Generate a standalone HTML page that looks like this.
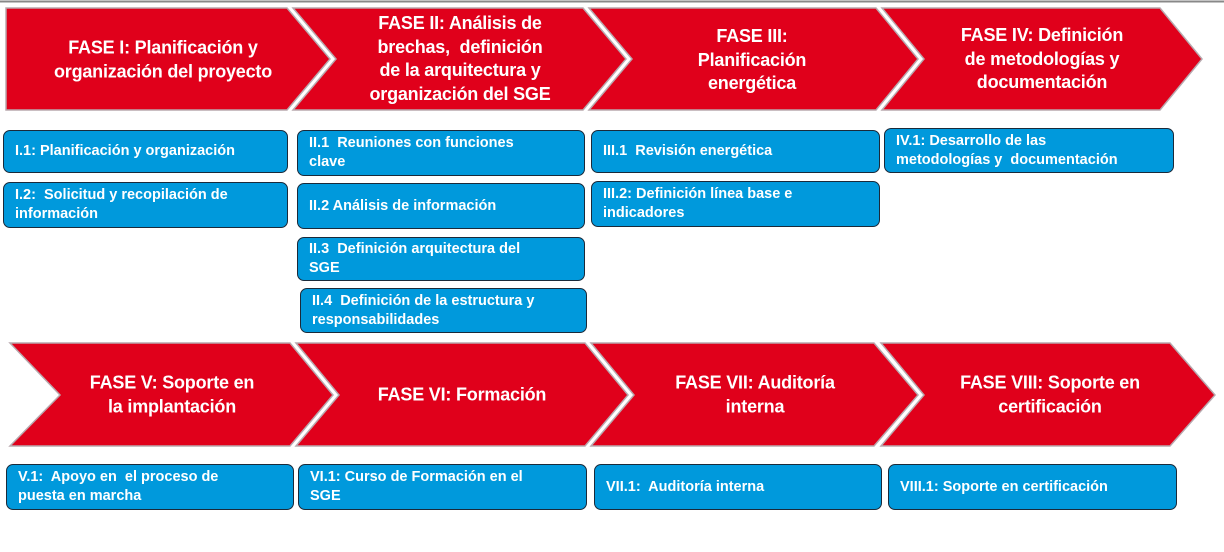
<!DOCTYPE html>
<html><head><meta charset="utf-8"><style>
body{margin:0;width:1224px;height:552px;background:#fff;position:relative;overflow:hidden;font-family:"Liberation Sans",Arial,sans-serif}
svg{position:absolute;left:0;top:0}
.h{position:absolute;color:#fff;font-weight:bold;font-size:18px;line-height:23.5px;text-align:center;transform:translate(-50%,-50%);white-space:nowrap;letter-spacing:-0.2px}
.b{position:absolute;box-sizing:border-box;background:#0099dc;border:1.5px solid #1a2a3a;border-radius:7px;color:#fff;font-weight:bold;font-size:14.5px;line-height:19px;padding:0 11px;display:flex;align-items:center}
</style></head><body>
<svg width="1224" height="552">
<line x1="0" y1="1.5" x2="1224" y2="1.5" stroke="#888" stroke-width="2"/>
<g fill="#e0001b" stroke="#b8a8ae" stroke-width="1.5">
<polygon points="6,8 287,8 330,59 287,110 6,110"/>
<polygon points="293,8 583,8 626,59 583,110 293,110 336,59"/>
<polygon points="589,8 876,8 918,59 876,110 589,110 632,59"/>
<polygon points="882,8 1160,8 1202,59 1160,110 882,110 924,59"/>
<polygon points="10,343 290,343 333,395 290,446 10,446 60,395"/>
<polygon points="296,343 585,343 628,395 585,446 296,446 339,395"/>
<polygon points="591,343 874,343 918,395 874,446 591,446 634,395"/>
<polygon points="881,343 1170,343 1215,395 1170,446 881,446 924,395"/>
</g></svg>
<div class="h" style="left:163px;top:60px">FASE I: Planificación y<br>organización del proyecto</div>
<div class="h" style="left:460px;top:59px">FASE II: Análisis de<br>brechas,&nbsp; definición<br>de la arquitectura y<br>organización del SGE</div>
<div class="h" style="left:752px;top:60px">FASE III:<br>Planificación<br>energética</div>
<div class="h" style="left:1042px;top:59px">FASE IV: Definición<br>de metodologías y<br>documentación</div>
<div class="h" style="left:172px;top:395px">FASE V: Soporte en<br>la implantación</div>
<div class="h" style="left:462px;top:395px">FASE VI: Formación</div>
<div class="h" style="left:755px;top:395px">FASE VII: Auditoría<br>interna</div>
<div class="h" style="left:1050px;top:395px">FASE VIII: Soporte en<br>certificación</div>

<div class="b" style="left:3px;top:130px;width:285px;height:43px">I.1: Planificación y organización</div>
<div class="b" style="left:3px;top:182px;width:285px;height:46px">I.2:&nbsp; Solicitud y recopilación de<br>información</div>
<div class="b" style="left:297px;top:130px;width:288px;height:46px">II.1&nbsp; Reuniones con funciones<br>clave</div>
<div class="b" style="left:297px;top:183px;width:288px;height:46px">II.2 Análisis de información</div>
<div class="b" style="left:297px;top:237px;width:288px;height:44px">II.3&nbsp; Definición arquitectura del<br>SGE</div>
<div class="b" style="left:300px;top:288px;width:287px;height:45px">II.4&nbsp; Definición de la estructura y<br>responsabilidades</div>
<div class="b" style="left:591px;top:130px;width:289px;height:43px">III.1&nbsp; Revisión energética</div>
<div class="b" style="left:591px;top:181px;width:289px;height:46px">III.2: Definición línea base e<br>indicadores</div>
<div class="b" style="left:884px;top:128px;width:290px;height:45px">IV.1: Desarrollo de las<br>metodologías y&nbsp; documentación</div>
<div class="b" style="left:6px;top:464px;width:288px;height:46px">V.1:&nbsp; Apoyo en&nbsp; el proceso de<br>puesta en marcha</div>
<div class="b" style="left:298px;top:464px;width:289px;height:46px">VI.1: Curso de Formación en el<br>SGE</div>
<div class="b" style="left:594px;top:464px;width:288px;height:46px">VII.1:&nbsp; Auditoría interna</div>
<div class="b" style="left:888px;top:464px;width:289px;height:46px">VIII.1: Soporte en certificación</div>
</body></html>
